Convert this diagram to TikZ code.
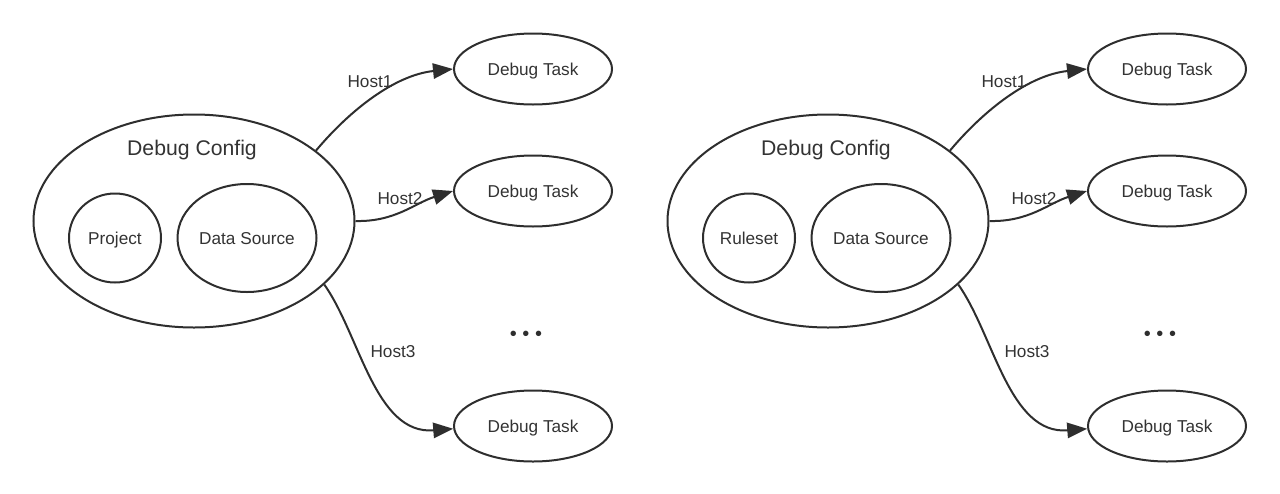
\documentclass[tikz,border=0pt]{standalone}
\usepackage{fontspec}
\setmainfont{Liberation Sans}
\usetikzlibrary{shapes.geometric,arrows.meta}
\definecolor{ink}{HTML}{2E2E2E}
\definecolor{txt}{HTML}{333333}
\tikzset{
  oval/.style={ellipse, draw=ink, line width=1.5pt, inner sep=0pt, text=txt, text depth=0pt,
               font=\fontsize{12.9pt}{15pt}\selectfont},
  hostlbl/.style={text=txt, inner sep=0pt, text depth=0pt, font=\fontsize{12.9pt}{15pt}\selectfont},
  titlelbl/.style={text=txt, inner sep=0pt, text depth=0pt, font=\fontsize{15.9pt}{18pt}\selectfont},
  conn/.style={draw=ink, line width=1.5pt, -{Triangle[length=15pt,width=11.5pt]}}
}
\begin{document}
\begin{tikzpicture}[x=0.75pt,y=-0.75pt]
\useasboundingbox (0,0) rectangle (1280,493);
\foreach \s/\o/\lab in {L/0/Project, R/634/Ruleset}{
  \node[oval, minimum width=240.75pt, minimum height=159.75pt] (cfg\s) at (194+\o,221) {};
  \node[titlelbl] (title\s) at (192+\o,148) {Debug Config};
  \node[oval, minimum width=69pt, minimum height=66.75pt] (inner\s) at (115+\o,238) {\lab};
  \node[oval, minimum width=104.25pt, minimum height=81pt] (ds\s) at (247+\o,238) {Data Source};
  \node[oval, minimum width=118.5pt, minimum height=53.25pt] (taskA\s) at (533+\o,69) {Debug Task};
  \node[oval, minimum width=118.5pt, minimum height=53.25pt] (taskB\s) at (533+\o,191) {Debug Task};
  \node[oval, minimum width=118.5pt, minimum height=53.25pt] (taskC\s) at (533+\o,426) {Debug Task};
  \node[text=ink, inner sep=0pt, font=\fontsize{15pt}{15pt}\selectfont] (dots\s) at (526+\o,336) {• • •};
  \draw[conn] (cfg\s.30) .. controls (350+\o,110) and (395+\o,75) .. (taskA\s.west)
     node[hostlbl] (h1\s) at (370+\o,82) {Host1};
  \draw[conn] (cfg\s.0) .. controls (395+\o,222) and (415+\o,203) .. (taskB\s.west)
     node[hostlbl] (h2\s) at (400+\o,198) {Host2};
  \draw[conn] (cfg\s.-26) .. controls (360+\o,335) and (375+\o,435) .. (taskC\s.182)
     node[hostlbl] (h3\s) at (393+\o,351) {Host3};
}
\end{tikzpicture}
\end{document}
